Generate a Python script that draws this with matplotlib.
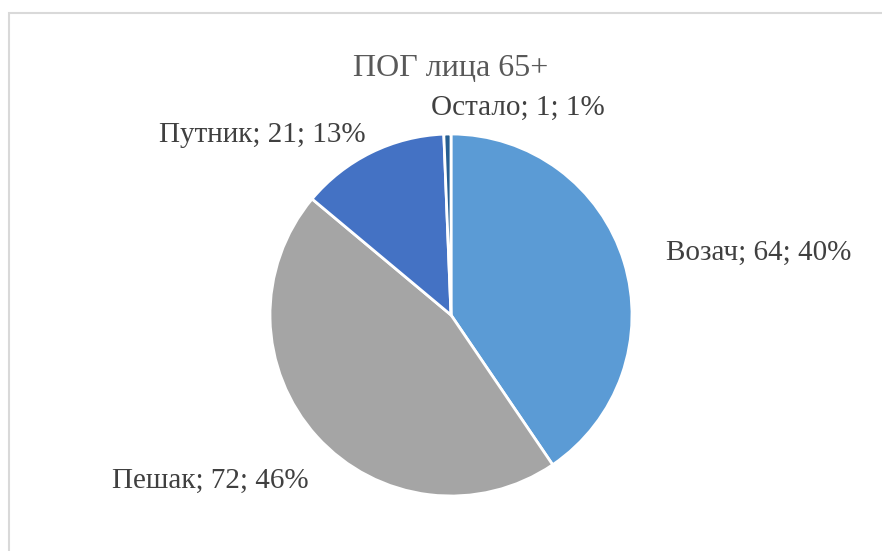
import matplotlib.pyplot as plt
from matplotlib.patches import Rectangle

categories = ["Возач", "Пешак", "Путник", "Остало"]
counts = [64, 72, 21, 1]
percents = [40, 46, 13, 1]
colors = ["#5B9BD5", "#A5A5A5", "#4472C4", "#255E91"]

# label positions in pie units (radius = 1)
label_pos = [(1.70, 0.345), (-1.33, -0.915), (-1.04, 0.995), (0.37, 1.145)]

plt.rcParams["font.family"] = ["Liberation Serif", "DejaVu Serif"]

fig = plt.figure(figsize=(8.82, 5.51), dpi=100)

# light chart frame
fig.patches.append(Rectangle((8.5 / 882, -0.1), 1.2, (551 - 12.5) / 551 + 0.1,
                             transform=fig.transFigure, fill=False,
                             edgecolor="#D9D9D9", linewidth=1.5))

ax = fig.add_axes([(451 - 181) / 882, (551 - 496) / 551, 362 / 882, 362 / 551])
ax.pie(counts, colors=colors, startangle=90, counterclock=False,
       wedgeprops=dict(edgecolor="white", linewidth=2))
ax.set_xlim(-1, 1)
ax.set_ylim(-1, 1)
ax.set_aspect("equal")
ax.axis("off")

for name, n, p, (x, y) in zip(categories, counts, percents, label_pos):
    ax.text(x, y, f"{name}; {n}; {p}%", ha="center", va="center",
            fontsize=21, color="#404040", clip_on=False)

fig.text(451 / 882, 1 - 68 / 551, "ПОГ лица 65+", ha="center", va="center",
         fontsize=23, color="#595959")

fig.savefig("out.png", dpi=100)
